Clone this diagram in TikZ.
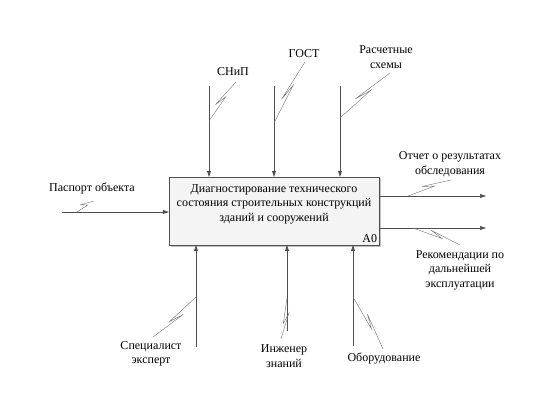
\documentclass[tikz,border=0pt]{standalone}
\usepackage{fontspec}
\setmainfont{Liberation Serif}
\usetikzlibrary{arrows.meta,calc,shadows}

\definecolor{linegray}{HTML}{505050}
\definecolor{boxfill}{HTML}{F4F4F4}

% squiggle from arrow line to its label
\newcommand{\squig}[2]{\draw[squig] (#1) -- ($(#1)!0.62!(#2)$) -- ($(#1)!0.36!(#2)!4pt!90:(#2)$) -- (#2);}

\begin{document}
\begin{tikzpicture}[x=1pt, y=-1pt, font=\fontsize{12}{14.5}\selectfont, >={Triangle[length=6pt,width=4pt]},
  func/.style={draw=linegray, fill=boxfill, minimum width=210pt, minimum height=68pt, inner sep=0pt,
    drop shadow={shadow xshift=1.5pt, shadow yshift=-1.5pt, fill=black!30, opacity=0.8}},
  arrow/.style={->, draw=linegray, line width=0.6pt},
  squig/.style={draw=linegray!80, line width=0.4pt},
  lbl/.style={align=center, inner sep=1pt}]
\useasboundingbox (0,0) rectangle (552,417);

\node[func] (a0) at (274,211) {};
\node[align=center, anchor=north] (a0text) at (274,181) {Диагностирование технического\\состояния строительных конструкций\\зданий и сооружений};
\node[anchor=south east, inner sep=2pt] (a0num) at (a0.south east) {A0};

% controls
\coordinate (c1) at (209,86);
\coordinate (c2) at (274,86);
\coordinate (c3) at (340,86);
\draw[arrow] (c1) -- (c1 |- a0.north);
\draw[arrow] (c2) -- (c2 |- a0.north);
\draw[arrow] (c3) -- (c3 |- a0.north);
\node[lbl] (snip) at (233,72) {СНиП};
\node[lbl] (gost) at (304,54) {ГОСТ};
\node[lbl] (schemes) at (386,57) {Расчетные\\схемы};
\coordinate (c1s) at (209,121);
\coordinate (c2s) at (274,123);
\coordinate (c3s) at (340,118);
\coordinate (snipe) at (236,82);
\coordinate (goste) at (305,62);
\coordinate (schemese) at (390,73);
\squig{c1s}{snipe}
\squig{c2s}{goste}
\squig{c3s}{schemese}

% input
\coordinate (i1) at (62,212);
\draw[arrow] (i1) -- (i1 -| a0.west);
\node[lbl] (passport) at (92,188) {Паспорт объекта};
\coordinate (i1s) at (77,212);
\coordinate (passporte) at (94,201);
\squig{i1s}{passporte}

% outputs
\coordinate (o1) at (486,196);
\coordinate (o2) at (486,228);
\draw[arrow] (o1 -| a0.east) -- (o1);
\draw[arrow] (o2 -| a0.east) -- (o2);
\node[lbl] (report) at (450,164) {Отчет о результатах\\обследования};
\node[lbl] (advice) at (460,270) {Рекомендации по\\дальнейшей\\эксплуатации};
\coordinate (o1s) at (408,196);
\coordinate (o2s) at (413,228);
\coordinate (reporte) at (451,180);
\coordinate (advicee) at (460,245);
\squig{o1s}{reporte}
\squig{o2s}{advicee}

% mechanisms
\coordinate (m1) at (196,347);
\coordinate (m2) at (287,331);
\coordinate (m3) at (353,346);
\draw[arrow] (m1) -- (m1 |- a0.south);
\draw[arrow] (m2) -- (m2 |- a0.south);
\draw[arrow] (m3) -- (m3 |- a0.south);
\node[lbl] (expert) at (151,354) {Специалист\\эксперт};
\node[lbl] (engineer) at (284,356) {Инженер\\знаний};
\node[lbl] (equipment) at (384,358) {Оборудование};
\coordinate (m1s) at (196,297);
\coordinate (m2s) at (287,298);
\coordinate (m3s) at (353,297);
\coordinate (experte) at (153,337);
\coordinate (engineere) at (281,339);
\coordinate (equipmente) at (383,349);
\squig{m1s}{experte}
\squig{m2s}{engineere}
\squig{m3s}{equipmente}
\end{tikzpicture}
\end{document}
